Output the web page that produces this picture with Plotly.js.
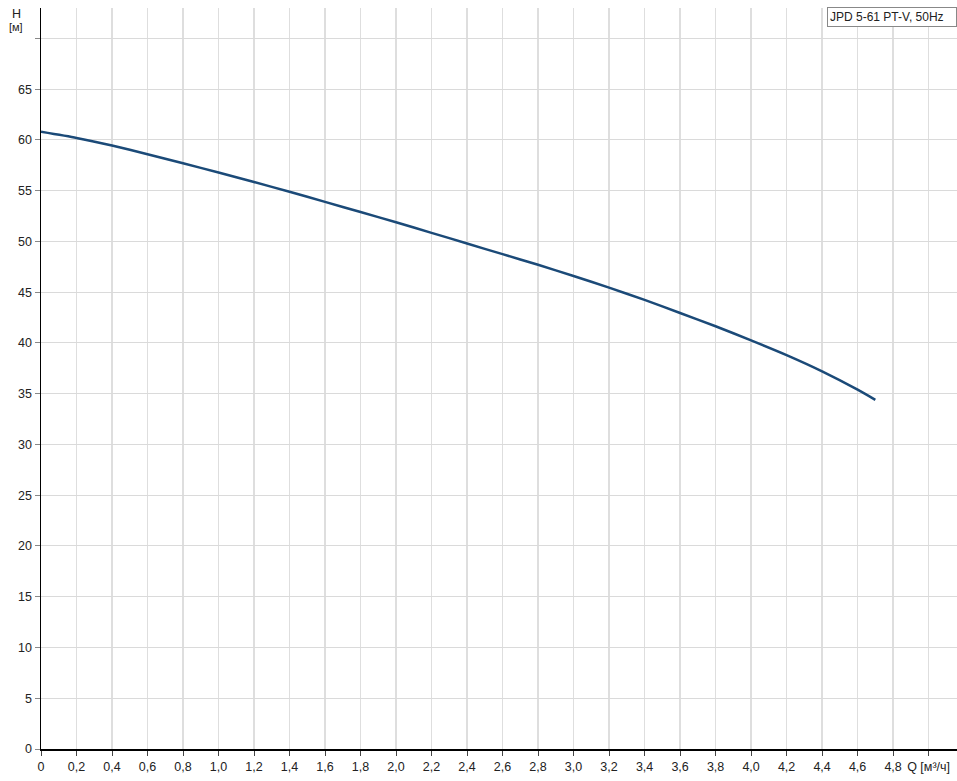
<!DOCTYPE html>
<html>
<head>
<meta charset="utf-8">
<script src="https://cdn.plot.ly/plotly-3.0.1.min.js"></script>
<style>html,body{margin:0;padding:0;background:#fff;}#chart{width:957px;height:781px;}</style>
</head>
<body>
<div id="chart"></div>
<script>
const flowQ = [0, 0.2, 0.4, 0.6, 0.8, 1.0, 1.2, 1.4, 1.6, 1.8, 2.0, 2.2, 2.4, 2.6, 2.8, 3.0, 3.2, 3.4, 3.6, 3.8, 4.0, 4.2, 4.4, 4.6, 4.7];
const headH = [60.8, 60.2, 59.45, 58.6, 57.7, 56.8, 55.85, 54.9, 53.9, 52.9, 51.9, 50.85, 49.8, 48.75, 47.7, 46.6, 45.45, 44.25, 42.95, 41.65, 40.25, 38.8, 37.2, 35.4, 34.4];
const xTickVals = [0, 0.2, 0.4, 0.6, 0.8, 1.0, 1.2, 1.4, 1.6, 1.8, 2.0, 2.2, 2.4, 2.6, 2.8, 3.0, 3.2, 3.4, 3.6, 3.8, 4.0, 4.2, 4.4, 4.6, 4.8, 5.0];
const xTickText = ["0", "0,2", "0,4", "0,6", "0,8", "1,0", "1,2", "1,4", "1,6", "1,8", "2,0", "2,2", "2,4", "2,6", "2,8", "3,0", "3,2", "3,4", "3,6", "3,8", "4,0", "4,2", "4,4", "4,6", "4,8", "Q [м³/ч]"];
const yTickVals = [0, 5, 10, 15, 20, 25, 30, 35, 40, 45, 50, 55, 60, 65, 70];
const yTickText = ["0", "5", "10", "15", "20", "25", "30", "35", "40", "45", "50", "55", "60", "65", ""];
const seriesName = "JPD 5-61 PT-V, 50Hz";

const trace = {
  x: flowQ, y: headH, type: 'scatter', mode: 'lines',
  line: {color: '#1b4a78', width: 2.5, shape: 'spline', smoothing: 0.6},
  name: seriesName, hoverinfo: 'skip'
};

const layout = {
  width: 957, height: 781,
  margin: {l: 41, r: 0, t: 8, b: 32},
  paper_bgcolor: '#fff', plot_bgcolor: '#fff',
  showlegend: false,
  font: {family: 'Liberation Sans, Arial, sans-serif', size: 12, color: '#222'},
  xaxis: {
    range: [0, 5.16], tickmode: 'array', tickvals: xTickVals, ticktext: xTickText,
    showgrid: true, gridcolor: '#dedede', gridwidth: 1.5,
    showline: true, linecolor: '#000', linewidth: 1.5,
    ticks: 'outside', ticklen: 5, tickcolor: '#444', zeroline: false,
    tickfont: {size: 12.5, color: '#222'}, fixedrange: true
  },
  yaxis: {
    range: [0, 73], tickmode: 'array', tickvals: yTickVals, ticktext: yTickText,
    showgrid: true, gridcolor: '#dadada', gridwidth: 1,
    showline: true, linecolor: '#000', linewidth: 1.5,
    ticks: 'outside', ticklen: 5, tickcolor: '#888', zeroline: false,
    tickfont: {size: 12.5, color: '#222'}, fixedrange: true
  },
  annotations: [
    {text: seriesName + '\u00a0\u00a0\u00a0', xref: 'paper', yref: 'paper', x: 1, y: 1.002, xanchor: 'right', yanchor: 'top',
     showarrow: false, bgcolor: '#fff', bordercolor: '#888', borderwidth: 1, borderpad: 2,
     font: {size: 12, color: '#222'}},
    {text: 'H', xref: 'paper', yref: 'paper', x: -0.027, y: 1.004, xanchor: 'center', yanchor: 'top',
     showarrow: false, font: {size: 12.5, color: '#222'}},
    {text: '[м]', xref: 'paper', yref: 'paper', x: -0.027, y: 0.985, xanchor: 'center', yanchor: 'top',
     showarrow: false, font: {size: 11, color: '#222'}}
  ]
};

Plotly.newPlot('chart', [trace], layout, {displayModeBar: false, staticPlot: true});
</script>
</body>
</html>
